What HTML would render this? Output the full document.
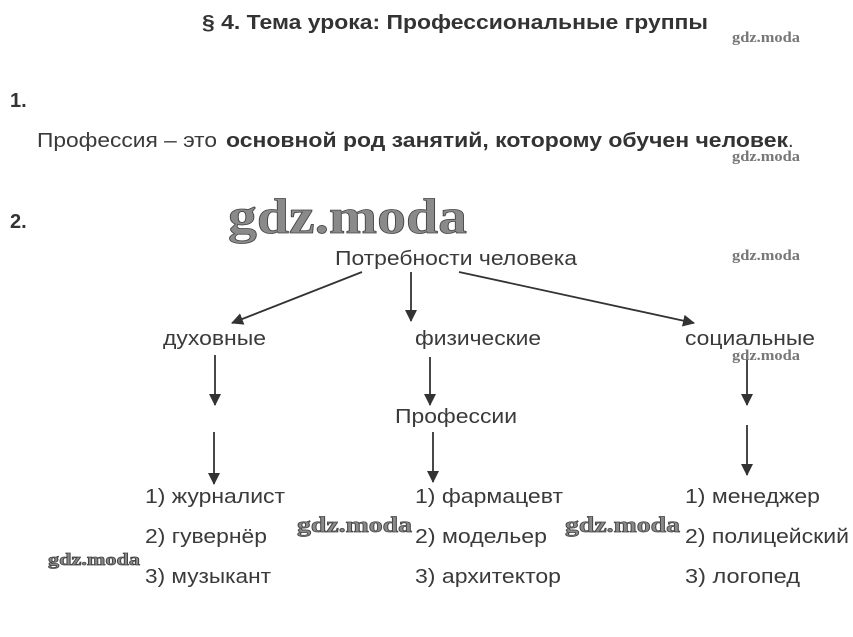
<!DOCTYPE html>
<html><head><meta charset="utf-8"><style>
html,body{margin:0;padding:0;background:#fff;width:853px;height:637px;overflow:hidden}
svg{display:block}
.t{font-family:"Liberation Sans",Arial,sans-serif;fill:#3a3a3a;font-size:20px}
.b{font-weight:bold;fill:#333}
.w{font-family:"Liberation Serif",serif;font-weight:bold;fill:#777;font-size:15px}
.wm{font-family:"Liberation Serif",serif;font-weight:bold;fill:#8a8a8a;stroke:#444;stroke-width:0.8}
</style></head><body>
<svg width="853" height="637" viewBox="0 0 853 637" xmlns="http://www.w3.org/2000/svg">
<defs><marker id="a" markerWidth="12" markerHeight="12" refX="11" refY="6" orient="auto" markerUnits="userSpaceOnUse"><path d="M0,0 L12,6 L0,12 z" fill="#333"/></marker></defs>
<text class="t b" x="202" y="29" textLength="506" lengthAdjust="spacingAndGlyphs">§ 4. Тема урока: Профессиональные группы</text>
<text class="w" x="732" y="42" textLength="68" lengthAdjust="spacingAndGlyphs">gdz.moda</text>
<text class="t b" x="10" y="107">1.</text>
<text class="t" x="37" y="147" textLength="180" lengthAdjust="spacingAndGlyphs">Профессия – это</text>
<text class="t b" x="226" y="147" textLength="562" lengthAdjust="spacingAndGlyphs">основной род занятий, которому обучен человек</text>
<text class="t" x="788" y="147">.</text>
<text class="w" x="732" y="161" textLength="68" lengthAdjust="spacingAndGlyphs">gdz.moda</text>
<text class="t b" x="10" y="228">2.</text>
<text class="wm" x="228" y="233" font-size="50" textLength="239" lengthAdjust="spacingAndGlyphs">gdz.moda</text>
<text class="w" x="732" y="260" textLength="68" lengthAdjust="spacingAndGlyphs">gdz.moda</text>
<text class="t" x="335" y="265" textLength="242" lengthAdjust="spacingAndGlyphs">Потребности человека</text>
<g stroke="#333" stroke-width="1.8" marker-end="url(#a)">
<line x1="362" y1="272" x2="232" y2="323"/>
<line x1="411" y1="272" x2="411" y2="321"/>
<line x1="459" y1="272" x2="694" y2="323"/>
<line x1="215" y1="355" x2="215" y2="405"/>
<line x1="214" y1="432" x2="214" y2="484"/>
<line x1="430" y1="357" x2="430" y2="405"/>
<line x1="433" y1="432" x2="433" y2="482"/>
<line x1="747" y1="355" x2="747" y2="405"/>
<line x1="747" y1="425" x2="747" y2="475"/>
</g>
<text class="t" x="163" y="345" textLength="103" lengthAdjust="spacingAndGlyphs">духовные</text>
<text class="t" x="415" y="345" textLength="126" lengthAdjust="spacingAndGlyphs">физические</text>
<text class="t" x="685" y="345" textLength="130" lengthAdjust="spacingAndGlyphs">социальные</text>
<text class="w" x="732" y="360" textLength="68" lengthAdjust="spacingAndGlyphs">gdz.moda</text>
<text class="t" x="395" y="423" textLength="122" lengthAdjust="spacingAndGlyphs">Профессии</text>
<text class="t" x="145" y="503" textLength="140" lengthAdjust="spacingAndGlyphs">1) журналист</text>
<text class="t" x="145" y="543" textLength="122" lengthAdjust="spacingAndGlyphs">2) гувернёр</text>
<text class="t" x="145" y="583" textLength="126" lengthAdjust="spacingAndGlyphs">3) музыкант</text>
<text class="t" x="415" y="503" textLength="148" lengthAdjust="spacingAndGlyphs">1) фармацевт</text>
<text class="t" x="415" y="543" textLength="132" lengthAdjust="spacingAndGlyphs">2) модельер</text>
<text class="t" x="415" y="583" textLength="146" lengthAdjust="spacingAndGlyphs">3) архитектор</text>
<text class="t" x="685" y="503" textLength="135" lengthAdjust="spacingAndGlyphs">1) менеджер</text>
<text class="t" x="685" y="543" textLength="164" lengthAdjust="spacingAndGlyphs">2) полицейский</text>
<text class="t" x="685" y="583" textLength="115" lengthAdjust="spacingAndGlyphs">3) логопед</text>
<text class="wm" x="297" y="532" font-size="22" stroke-width="0.5" textLength="115" lengthAdjust="spacingAndGlyphs">gdz.moda</text>
<text class="wm" x="565" y="532" font-size="22" stroke-width="0.5" textLength="115" lengthAdjust="spacingAndGlyphs">gdz.moda</text>
<text class="wm" x="48" y="565" font-size="17" stroke-width="0.4" textLength="92" lengthAdjust="spacingAndGlyphs">gdz.moda</text>
</svg>
</body></html>
